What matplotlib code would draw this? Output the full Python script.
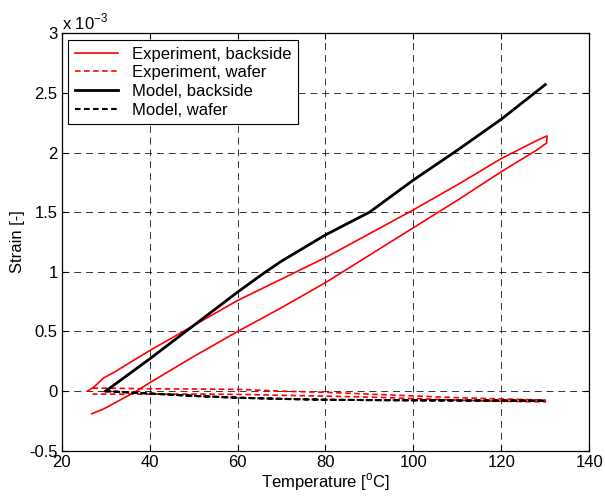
import numpy as np
import matplotlib.pyplot as plt

plt.rcParams['font.family'] = ['Liberation Sans', 'DejaVu Sans']
plt.rcParams['font.size'] = 12
plt.rcParams['lines.scale_dashes'] = False

# strain values are in units of 1e-3
# experiment, backside: heating branch then cooling branch
exp_back_heat_T = [26.8, 29.5, 33, 37, 40, 50, 60, 70, 80, 90, 100, 110, 120, 128, 130.3]
exp_back_heat_s = [-0.19, -0.15, -0.08, 0.0, 0.07, 0.29, 0.5, 0.7, 0.91, 1.14, 1.37, 1.6, 1.84, 2.02, 2.08]
exp_back_cool_T = [130.4, 128, 120, 110, 100, 90, 80, 70, 60, 50, 40, 32, 29.5, 27.5, 25.9]
exp_back_cool_s = [2.14, 2.1, 1.95, 1.73, 1.52, 1.32, 1.12, 0.94, 0.76, 0.55, 0.34, 0.16, 0.11, 0.04, 0.0]

# experiment, wafer
exp_waf_a_T = [27, 30, 40, 50, 60, 70, 80, 90, 100, 110, 120, 130]
exp_waf_a_s = [0.025, 0.025, 0.02, 0.018, 0.015, 0.0, -0.01, -0.025, -0.04, -0.055, -0.065, -0.075]
exp_waf_b_T = [27, 40, 50, 60, 70, 80, 90, 100, 110, 120, 130]
exp_waf_b_s = [-0.025, -0.025, -0.025, -0.027, -0.035, -0.042, -0.05, -0.062, -0.075, -0.085, -0.09]

# model
mod_back_T = [30, 40, 50, 60, 66, 70, 80, 90, 100, 110, 120, 130]
mod_back_s = [0.0, 0.27, 0.55, 0.83, 0.99, 1.09, 1.31, 1.5, 1.77, 2.02, 2.28, 2.57]
mod_waf_T = [30, 40, 50, 60, 70, 80, 90, 100, 110, 120, 130]
mod_waf_s = [0.0, -0.02, -0.04, -0.055, -0.065, -0.072, -0.075, -0.077, -0.078, -0.079, -0.08]

fig = plt.figure(figsize=(6.05, 4.97), dpi=100)
ax = fig.add_axes([0.102, 0.093, 0.872, 0.840])

dash = (0, (4, 2.5))
ax.plot(exp_back_heat_T + exp_back_cool_T, exp_back_heat_s + exp_back_cool_s,
        color='r', lw=1.2, label='Experiment, backside')
ax.plot(exp_waf_a_T + exp_waf_b_T[::-1], exp_waf_a_s + exp_waf_b_s[::-1],
        color='r', lw=1.2, ls=dash, label='Experiment, wafer')
ax.plot(mod_back_T, mod_back_s, color='k', lw=2, label='Model, backside')
ax.plot(mod_waf_T + mod_waf_T[::-1], mod_waf_s + mod_waf_s[::-1],
        color='k', lw=1.5, ls=dash, label='Model, wafer')

ax.set_xlim(20, 140)
ax.set_ylim(-0.5, 3)
ax.set_xticks(np.arange(20, 141, 20))
ax.set_yticks(np.arange(-0.5, 3.01, 0.5))
ax.set_yticklabels(['-0.5', '0', '0.5', '1', '1.5', '2', '2.5', '3'])
ax.grid(True, color='k', lw=0.7, ls=(0, (5, 3.5)), alpha=0.8)
ax.tick_params(direction='in', top=True, right=True, length=4, width=0.8, pad=3)
for sp in ax.spines.values():
    sp.set_linewidth(0.9)

ax.set_xlabel(r'Temperature [$^{\mathregular{o}}$C]', labelpad=1)
ax.set_ylabel('Strain [-]', labelpad=3)
ax.text(0.0, 1.003, r'x 10$^{\mathregular{-3}}$', transform=ax.transAxes,
        ha='left', va='bottom')

leg = ax.legend(loc='upper left', handlelength=2.6, borderaxespad=0.4,
                fancybox=False, framealpha=1, edgecolor='k',
                labelspacing=0.22, borderpad=0.4, handletextpad=0.8)
leg.get_frame().set_linewidth(0.8)

fig.savefig('out.png', dpi=100)
